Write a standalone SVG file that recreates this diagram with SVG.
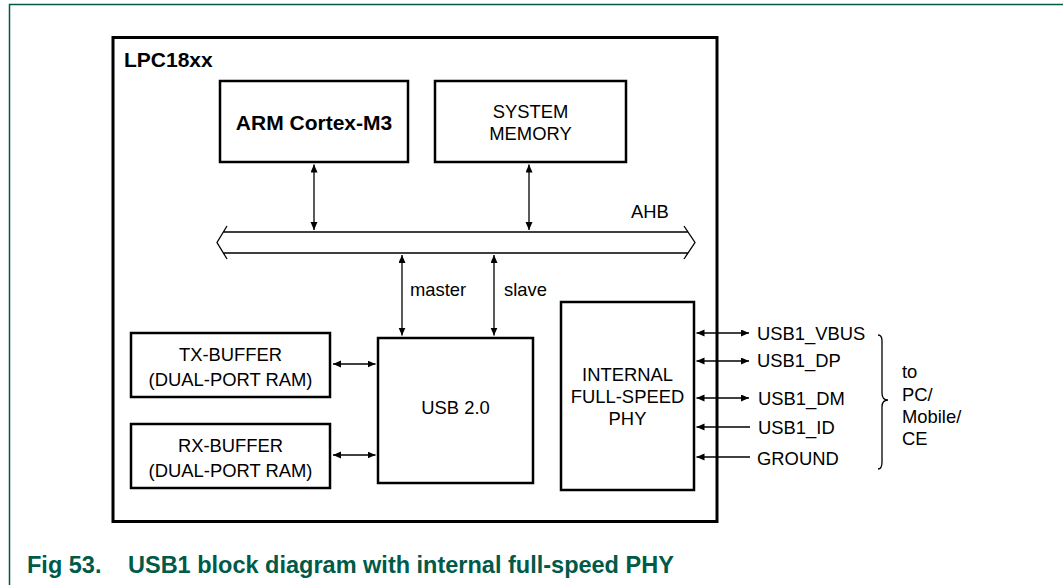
<svg xmlns="http://www.w3.org/2000/svg" width="1063" height="585" viewBox="0 0 1063 585">
<style>
  text { font-family: "Liberation Sans", Arial, sans-serif; fill: #000; }
  .t { font-size: 18.4px; }
  .c { text-anchor: middle; }
  .b { font-weight: bold; }
  .box { fill: #fff; stroke: #000; stroke-width: 2.5; }
  .outer { fill: none; stroke: #000; stroke-width: 3; }
  .ln { fill: none; stroke: #000; stroke-width: 1.3; }
  .cap { font-size: 23.5px; font-weight: bold; fill: #005A48; }
</style>
<defs>
  <marker id="ah" markerUnits="userSpaceOnUse" markerWidth="9" markerHeight="8" refX="8" refY="3.5" orient="auto-start-reverse">
    <path d="M0,0 L8,3.5 L0,7 z" fill="#000"/>
  </marker>
</defs>
<rect width="1063" height="585" fill="#fff"/>
<path d="M9.5,585 L9.5,4.5 L1063,4.5" fill="none" stroke="#005A48" stroke-width="1.5"/>

<g id="lpc18xx">
  <rect class="outer" x="113" y="37.5" width="604" height="484"/>
  <text class="b" x="124" y="66.5" font-size="21">LPC18xx</text>
</g>
<g id="arm">
  <rect class="box" x="220" y="81" width="188" height="81"/>
  <text class="b c" x="314" y="130" font-size="21">ARM Cortex-M3</text>
</g>
<g id="sysmem">
  <rect class="box" x="435" y="81" width="191" height="81"/>
  <text class="t c" x="530.5" y="118">SYSTEM</text>
  <text class="t c" x="530.5" y="140">MEMORY</text>
</g>
<g id="ahb">
  <path class="ln" d="M227,226 L217,242.5 L227,259 M684,226 L695,242.5 L684,259 M223.4,232 L688,232 M223.4,253 L688,253"/>
  <text class="t" x="631" y="218">AHB</text>
</g>
<g id="usb20">
  <rect class="box" x="378" y="338" width="155" height="145"/>
  <text class="t c" x="455.5" y="414">USB 2.0</text>
</g>
<g id="phy">
  <rect class="box" x="561" y="302" width="133" height="188"/>
  <text class="t c" x="627.5" y="381">INTERNAL</text>
  <text class="t c" x="627.5" y="403">FULL-SPEED</text>
  <text class="t c" x="627.5" y="425">PHY</text>
</g>
<g id="txbuf">
  <rect class="box" x="131" y="333" width="199" height="64"/>
  <text class="t c" x="230.5" y="361">TX-BUFFER</text>
  <text class="t c" x="230.5" y="385.5">(DUAL-PORT RAM)</text>
</g>
<g id="rxbuf">
  <rect class="box" x="131" y="424" width="199" height="64"/>
  <text class="t c" x="230.5" y="452">RX-BUFFER</text>
  <text class="t c" x="230.5" y="476.5">(DUAL-PORT RAM)</text>
</g>

<g id="connectors">
  <line class="ln" x1="314" y1="164.5" x2="314" y2="230" marker-start="url(#ah)" marker-end="url(#ah)"/>
  <line class="ln" x1="529" y1="164.5" x2="529" y2="230" marker-start="url(#ah)" marker-end="url(#ah)"/>
  <line class="ln" x1="402" y1="255" x2="402" y2="335.5" marker-start="url(#ah)" marker-end="url(#ah)"/>
  <line class="ln" x1="494" y1="255" x2="494" y2="335.5" marker-start="url(#ah)" marker-end="url(#ah)"/>
  <line class="ln" x1="333" y1="364" x2="375.5" y2="364" marker-start="url(#ah)" marker-end="url(#ah)"/>
  <line class="ln" x1="333" y1="455" x2="375.5" y2="455" marker-start="url(#ah)" marker-end="url(#ah)"/>
  <line class="ln" x1="696.5" y1="333" x2="749" y2="333" marker-start="url(#ah)" marker-end="url(#ah)"/>
  <line class="ln" x1="696.5" y1="361" x2="749" y2="361" marker-start="url(#ah)" marker-end="url(#ah)"/>
  <line class="ln" x1="696.5" y1="398" x2="749" y2="398" marker-start="url(#ah)" marker-end="url(#ah)"/>
  <line class="ln" x1="696.5" y1="427" x2="750" y2="427" marker-start="url(#ah)"/>
  <line class="ln" x1="696.5" y1="457" x2="750" y2="457" marker-start="url(#ah)"/>
  <text class="t" x="410" y="296">master</text>
  <text class="t" x="504" y="296">slave</text>
</g>

<g id="signals">
  <text class="t" x="757" y="340">USB1_VBUS</text>
  <text class="t" x="757" y="367">USB1_DP</text>
  <text class="t" x="758" y="405">USB1_DM</text>
  <text class="t" x="758" y="434">USB1_ID</text>
  <text class="t" x="757" y="465">GROUND</text>
  <path class="ln" d="M878,335 Q882,335 882,341 L882,393 Q882,400 888,400 Q882,400 882,407 L882,462 Q882,469 878,469"/>
  <text class="t" x="902" y="378">to</text>
  <text class="t" x="902" y="401">PC/</text>
  <text class="t" x="902" y="423">Mobile/</text>
  <text class="t" x="902" y="445">CE</text>
</g>

<g id="caption">
  <text class="cap" x="27" y="573">Fig 53.</text>
  <text class="cap" x="128" y="573">USB1 block diagram with internal full-speed PHY</text>
</g>
</svg>
